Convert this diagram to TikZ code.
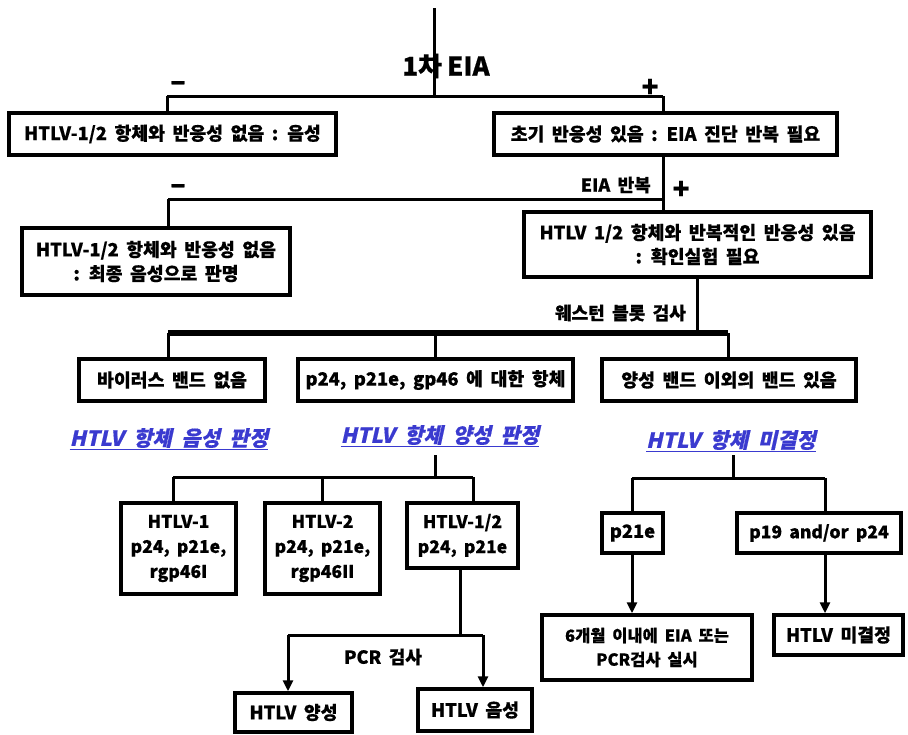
\documentclass[tikz,border=0pt]{standalone}
\usepackage{fontspec}
\setmainfont{Noto Sans CJK KR}[WordSpace=1.8,BoldFeatures={FakeBold=0.5}]
\usetikzlibrary{arrows.meta}
\definecolor{linkblue}{RGB}{58,58,207}
\newfontfamily\slfont[FakeSlant=0.22,WordSpace=2,BoldFeatures={FakeBold=0.5}]{Noto Sans CJK KR}
\begin{document}
\begin{tikzpicture}[x=1pt,y=-1pt,
  box/.style={draw,line width=3.5pt,inner sep=0pt,align=center,font=\bfseries\fontsize{18.3}{24}\selectfont},
  conn/.style={line width=3pt},
  arr/.style={line width=3pt,-{Triangle[length=11pt,width=10pt]}},
  lab/.style={font=\bfseries\fontsize{18}{20}\selectfont,inner sep=0pt},
  sign/.style={font=\bfseries\fontsize{28}{28}\selectfont,inner sep=0pt},
  link/.style={font=\slfont\bfseries\fontsize{21}{22}\selectfont,text=linkblue,inner sep=0pt}]
\useasboundingbox (0,0) rectangle (908,734);
% title
\coordinate (top) at (434,8);
\coordinate (j1) at (434,96);
\coordinate (j1l) at (167,96);
\coordinate (j1r) at (663,96);
\draw[conn] (top) -- (j1);
\node[font=\bfseries\fontsize{26}{26}\selectfont,inner sep=0pt] (title) at (446,66) {1차\hspace{5pt}EIA};
\node[sign] (m1) at (178,86) {–};
\node[sign] (p1) at (650,88) {+};
\node[box,minimum width=327pt,minimum height=42pt] (b1) at (172.5,134) {HTLV-1/2 항체와 반응성 없음 : 음성};
\node[box,minimum width=343pt,minimum height=42pt] (b2) at (665.5,134) {초기 반응성 있음 : EIA 진단 반복 필요};
\draw[conn] (j1l) -- (j1r);
\draw[conn] (j1l) -- (j1l |- b1.north);
\draw[conn] (j1r) -- (j1r |- b2.north);
% second level
\coordinate (j2l) at (168,199);
\coordinate (j2r) at (663,199);
\node[box,minimum width=268pt,minimum height=67pt] (b3) at (156,261.5) {HTLV-1/2 항체와 반응성 없음\\: 최종 음성으로 판명};
\node[box,minimum width=347pt,minimum height=65pt] (b4) at (697.5,244.5) {HTLV 1/2 항체와 반복적인 반응성 있음\\: 확인실험 필요};
\draw[conn] (j1r |- b2.south) -- (j1r |- b4.north);
\draw[conn] (j2l) -- (j2r);
\draw[conn] (j2l) -- (j2l |- b3.north);
\node[lab,anchor=east] (eia) at (651,185) {EIA 반복};
\node[sign] (p2) at (681,190) {+};
\node[sign] (m2) at (178,189) {–};
% western blot
\coordinate (j3) at (697,333);
\coordinate (j3l) at (168,333);
\coordinate (j3m) at (435,333);
\coordinate (j3r) at (728,333);
\draw[conn] (b4.south -| j3) -- (j3);
\draw[line width=5.5pt] (j3l) -- (j3r);
\node[lab,anchor=east] (wb) at (686,313) {웨스턴 블롯 검사};
\node[box,minimum width=186pt,minimum height=42pt] (c1) at (172,380) {바이러스 밴드 없음};
\node[box,minimum width=275pt,minimum height=42pt] (c2) at (435.5,380) {p24, p21e, gp46 에 대한 항체};
\node[box,minimum width=254pt,minimum height=42pt] (c3) at (729,380) {양성 밴드 이외의 밴드 있음};
\draw[conn] (j3l) -- (j3l |- c1.north);
\draw[conn] (j3m) -- (j3m |- c2.north);
\draw[conn] (j3r) -- (j3r |- c3.north);
% links
\node[link] (L1) at (169,439) {\underline{HTLV 항체 음성 판정}};
\node[link] (L2) at (440,436) {\underline{HTLV 항체 양성 판정}};
\node[link] (L3) at (731,441) {\underline{HTLV 항체 미결정}};
% positive branch
\coordinate (k0) at (435,455);
\coordinate (k1) at (435,477);
\coordinate (k1l) at (173,477);
\coordinate (k1m) at (322,477);
\coordinate (k1r) at (473,477);
\node[box,font=\bfseries\fontsize{17.5}{25}\selectfont,minimum width=115pt,minimum height=91pt] (d1) at (178.5,548.5) {HTLV-1\\p24, p21e,\\rgp46I};
\node[box,font=\bfseries\fontsize{17.5}{25}\selectfont,minimum width=115pt,minimum height=91pt] (d2) at (322.5,548.5) {HTLV-2\\p24, p21e,\\rgp46II};
\node[box,font=\bfseries\fontsize{17.5}{25}\selectfont,minimum width=111pt,minimum height=65pt] (d3) at (462.5,535.5) {HTLV-1/2\\p24, p21e};
\draw[conn] (k0) -- (k1);
\draw[conn] (k1l) -- (k1r);
\draw[conn] (k1l) -- (k1l |- d1.north);
\draw[conn] (k1m) -- (k1m |- d2.north);
\draw[conn] (k1r) -- (k1r |- d3.north);
% PCR
\coordinate (q) at (460,635);
\coordinate (ql) at (288,635);
\coordinate (qr) at (483,635);
\node[box,minimum width=117pt,minimum height=39pt] (e1) at (293.5,712.5) {HTLV 양성};
\node[box,minimum width=114pt,minimum height=42pt] (e2) at (475,710) {HTLV 음성};
\draw[conn] (q |- d3.south) -- (q);
\draw[conn] (ql) -- (qr);
\draw[arr] (ql) -- (ql |- e1.north);
\draw[arr] (qr) -- (qr |- e2.north);
\node[lab] (pcr) at (383,657) {PCR 검사};
% indeterminate branch
\coordinate (r0) at (733,455);
\coordinate (r1) at (733,478);
\coordinate (r1l) at (632,478);
\coordinate (r1r) at (825,478);
\node[box,minimum width=61pt,minimum height=40pt] (f1) at (632.5,533) {p21e};
\node[box,font=\bfseries\fontsize{17.5}{24}\selectfont,minimum width=164pt,minimum height=40pt] (f2) at (819,533) {p19 and/or p24};
\node[box,font=\bfseries\fontsize{16.5}{24}\selectfont,minimum width=210pt,minimum height=65pt] (g1) at (647,647.5) {6개월 이내에 EIA 또는\\PCR검사 실시};
\node[box,minimum width=129pt,minimum height=40pt] (g2) at (838.5,635) {HTLV 미결정};
\draw[conn] (r0) -- (r1);
\draw[conn] (r1l) -- (r1r);
\draw[conn] (r1l) -- (r1l |- f1.north);
\draw[conn] (r1r) -- (r1r |- f2.north);
\draw[arr] (r1l |- f1.south) -- (r1l |- g1.north);
\draw[arr] (r1r |- f2.south) -- (r1r |- g2.north);
\end{tikzpicture}
\end{document}
